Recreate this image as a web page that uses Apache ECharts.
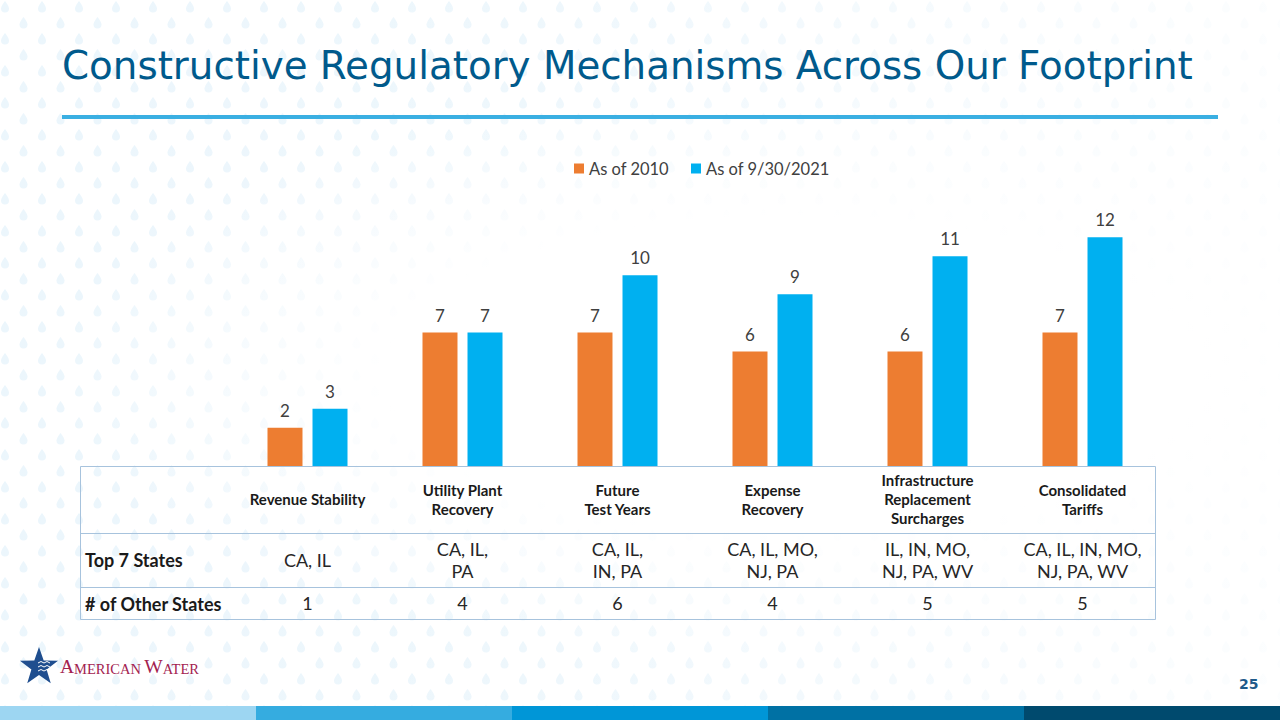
<!DOCTYPE html>
<html>
<head>
<meta charset="utf-8">
<script src="https://cdn.jsdelivr.net/npm/echarts@6/dist/echarts.min.js"></script>
<style>
  html, body { margin: 0; padding: 0; width: 1280px; height: 720px; overflow: hidden; background: #fff; }
  #bg { position: absolute; left: 0; top: 0; width: 1280px; height: 720px;
    background-image: url("data:image/svg+xml;utf8,<svg xmlns='http://www.w3.org/2000/svg' width='37' height='32'><path d='M5 1 C5 1 1 6 1 8.5 A4 4 0 0 0 9 8.5 C9 6 5 1 5 1Z' fill='%23dcEFfa'/><path d='M23.5 17 C23.5 17 19.5 22 19.5 24.5 A4 4 0 0 0 27.5 24.5 C27.5 22 23.5 17 23.5 17Z' fill='%23dcEFfa'/></svg>");
  }
  #fade { position: absolute; left: 0; top: 0; width: 1280px; height: 720px;
    background: radial-gradient(ellipse 58% 40% at 62% 52%, rgba(255,255,255,1) 55%, rgba(255,255,255,0.45) 100%);
  }
  #fade2 { position: absolute; left: 0; top: 0; width: 1280px; height: 720px;
    background: linear-gradient(90deg, rgba(255,255,255,0) 0%, rgba(255,255,255,0.1) 40%, rgba(255,255,255,0.85) 100%);
  }
  #chart { position: absolute; left: 0; top: 0; width: 1280px; height: 720px; }
</style>
</head>
<body>
<div id="bg"></div>
<div id="fade"></div>
<div id="fade2"></div>
<div id="chart"></div>
<script>
const categories = ['Revenue Stability', 'Utility Plant\nRecovery', 'Future\nTest Years', 'Expense\nRecovery', 'Infrastructure\nReplacement\nSurcharges', 'Consolidated\nTariffs'];
const seriesNames = ['As of 2010', 'As of 9/30/2021'];
const values2010 = [2, 7, 7, 6, 6, 7];
const values2021 = [3, 7, 10, 9, 11, 12];
const topStates = ['CA, IL', 'CA, IL,\nPA', 'CA, IL,\nIN, PA', 'CA, IL, MO,\nNJ, PA', 'IL, IN, MO,\nNJ, PA, WV', 'CA, IL, IN, MO,\nNJ, PA, WV'];
const otherStates = ['1', '4', '6', '4', '5', '5'];
const rowLabels = ['Top 7 States', '# of Other States'];
const titleText = 'Constructive Regulatory Mechanisms Across Our Footprint';
const pageNumber = '25';

const chart = echarts.init(document.getElementById('chart'), null, { renderer: 'svg' });

const FONT = 'Lato, "Open Sans", sans-serif';
const gridLeft = 230, gridRight = 120;

function starPoints(cx, cy, ro, ri) {
  const pts = [];
  for (let i = 0; i < 10; i++) {
    const a = -Math.PI / 2 + i * Math.PI / 5;
    const r = i % 2 === 0 ? ro : ri;
    pts.push([cx + r * Math.cos(a), cy + r * Math.sin(a)]);
  }
  return pts;
}

const barColors = ['#9dd6f2', '#35ace0', '#0096d7', '#0071a4', '#004a6e'];
const bottomBars = barColors.map((c, i) => ({
  type: 'rect', shape: { x: i * 256, y: 706, width: 256, height: 14 }, style: { fill: c }, silent: true
}));

const option = {
  animation: false,
  textStyle: { fontFamily: FONT },
  legend: {
    data: seriesNames, left: 569, top: 155, itemWidth: 10, itemHeight: 10, itemGap: 22,
    icon: 'rect', textStyle: { fontSize: 16.5, color: '#404040', fontFamily: FONT }
  },
  grid: [
    { left: gridLeft, right: gridRight, top: 199, bottom: 254 },
    { left: gridLeft, right: gridRight, top: 479, height: 20 },
    { left: gridLeft, right: gridRight, top: 540, height: 20 },
    { left: gridLeft, right: gridRight, top: 583, height: 20 }
  ],
  xAxis: [
    { type: 'category', gridIndex: 0, data: categories, axisLine: { show: false }, axisTick: { show: false },
      axisLabel: { show: false } },
    { type: 'category', gridIndex: 1, data: categories, axisLine: { show: false }, axisTick: { show: false },
      axisLabel: { interval: 0, color: '#1a1a1a', fontFamily: FONT, fontWeight: 'bold', fontSize: 15,
        lineHeight: 19, verticalAlign: 'middle', margin: 0 } },
    { type: 'category', gridIndex: 2, data: categories, axisLine: { show: false }, axisTick: { show: false },
      axisLabel: { interval: 0, color: '#262626', fontFamily: FONT, fontSize: 18, lineHeight: 22, verticalAlign: 'middle', margin: 0,
        formatter: (v, i) => topStates[i] } },
    { type: 'category', gridIndex: 3, data: categories, axisLine: { show: false }, axisTick: { show: false },
      axisLabel: { interval: 0, color: '#262626', fontFamily: FONT, fontSize: 18, verticalAlign: 'middle', margin: 0,
        formatter: (v, i) => otherStates[i] } }
  ],
  yAxis: [
    { type: 'value', gridIndex: 0, min: 0, max: 14, show: false, splitLine: { show: false } },
    { type: 'value', gridIndex: 1, show: false },
    { type: 'value', gridIndex: 2, show: false },
    { type: 'value', gridIndex: 3, show: false }
  ],
  series: [
    { name: seriesNames[0], type: 'bar', data: values2010, barWidth: 35, barGap: '28.6%',
      itemStyle: { color: '#ed7d31' },
      label: { show: true, position: 'top', distance: 9, fontSize: 17, color: '#404040', fontFamily: FONT } },
    { name: seriesNames[1], type: 'bar', data: values2021, barWidth: 35, barGap: '28.6%',
      itemStyle: { color: '#00b0f0' },
      label: { show: true, position: 'top', distance: 9, fontSize: 17, color: '#404040', fontFamily: FONT } }
  ],
  graphic: [
    { type: 'text', left: 62, top: 46, style: { text: titleText, fill: '#005a8c', font: '38.8px "DejaVu Sans"' } },
    { type: 'rect', shape: { x: 62, y: 115, width: 1156, height: 4 }, style: { fill: '#3aafe2' }, silent: true },
    // table
    { type: 'rect', shape: { x: 80.5, y: 466.5, width: 1075, height: 153 }, style: { fill: 'none', stroke: '#a7c3dd', lineWidth: 1 }, silent: true },
    { type: 'line', shape: { x1: 80.5, y1: 533.5, x2: 1155.5, y2: 533.5 }, style: { stroke: '#a7c3dd', lineWidth: 1 }, silent: true },
    { type: 'line', shape: { x1: 80.5, y1: 587.5, x2: 1155.5, y2: 587.5 }, style: { stroke: '#a7c3dd', lineWidth: 1 }, silent: true },
    { type: 'text', x: 85, y: 560, style: { text: rowLabels[0], fill: '#1a1a1a', font: 'bold 18px ' + FONT, verticalAlign: 'middle' } },
    { type: 'text', x: 85, y: 604, style: { text: rowLabels[1], fill: '#1a1a1a', font: 'bold 18px ' + FONT, verticalAlign: 'middle' } },
    // logo
    { type: 'polygon', shape: { points: starPoints(39, 667, 20, 8) }, style: { fill: '#1f4e8f' }, silent: true },
    { type: 'polyline', shape: { points: [[38, 663], [41, 661.5], [44, 663], [47, 661.5], [50, 663]] }, style: { stroke: '#fff', lineWidth: 1, fill: 'none' }, silent: true },
    { type: 'polyline', shape: { points: [[38, 667], [41, 665.5], [44, 667], [47, 665.5], [50, 667]] }, style: { stroke: '#fff', lineWidth: 1, fill: 'none' }, silent: true },
    { type: 'polyline', shape: { points: [[38, 671], [41, 669.5], [44, 671], [47, 669.5], [50, 671]] }, style: { stroke: '#fff', lineWidth: 1, fill: 'none' }, silent: true },
    { type: 'text', x: 60, y: 676, style: {
        text: '{b|A}{s|MERICAN} {b|W}{s|ATER}', verticalAlign: 'bottom',
        rich: {
          b: { fontFamily: '"Liberation Serif", serif', fontSize: 19.5, fill: '#a3224f', verticalAlign: 'bottom' },
          s: { fontFamily: '"Liberation Serif", serif', fontSize: 14.5, fill: '#a3224f', verticalAlign: 'bottom' }
        } } },
    { type: 'text', x: 1239, y: 684, style: { text: pageNumber, fill: '#1f5a8a', font: 'bold 14px "DejaVu Sans"', verticalAlign: 'middle' } }
  ].concat(bottomBars)
};

chart.setOption(option);
</script>
</body>
</html>
